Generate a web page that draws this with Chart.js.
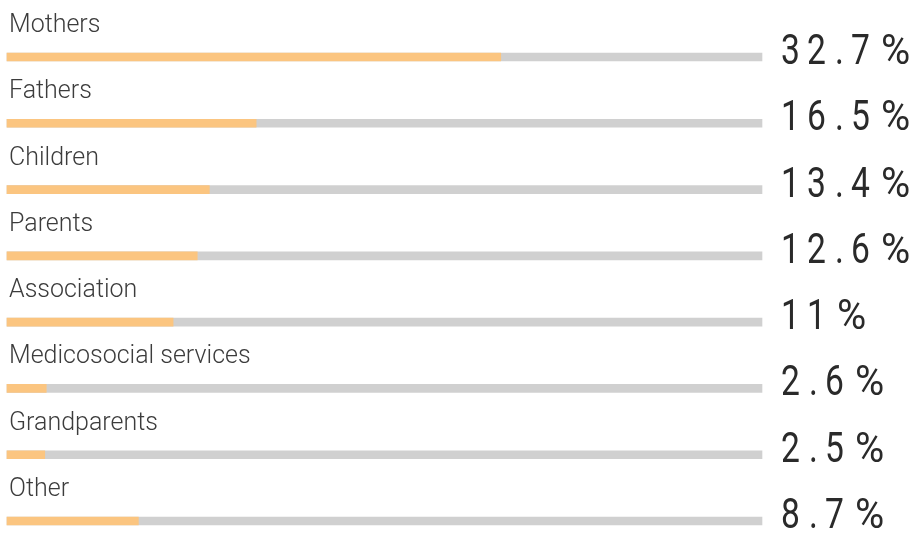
<!DOCTYPE html>
<html>
<head>
<meta charset="utf-8">
<script src="https://cdn.jsdelivr.net/npm/chart.js@4/dist/chart.umd.min.js"></script>
<style>
  html, body { margin: 0; padding: 0; background: #ffffff; }
  #wrap { width: 919px; height: 535px; position: relative; }
</style>
</head>
<body>
<div id="wrap"><canvas id="chart"></canvas></div>
<script>
// Who the respondents are, as a share of all answers
const categories = ['Mothers', 'Fathers', 'Children', 'Parents', 'Association',
  'Medicosocial services', 'Grandparents', 'Other'];
const shares = [32.7, 16.5, 13.4, 12.6, 11, 2.6, 2.5, 8.7];
const valueLabels = ['32.7%', '16.5%', '13.4%', '12.6%', '11%', '2.6%', '2.5%', '8.7%'];
const scaleMax = 50;
const track = categories.map(() => scaleMax);

const ORANGE = '#fbc580';
const GREY = '#d0d0d0';

// horizontal advance of one character of the condensed value text
function advance(ch, next) {
  if (ch === '.') return 16;
  if (next === '.') return 28;
  if (next === '%') return 30;
  return 26;
}

// Category names above each bar and the big condensed value at the right end
const textPlugin = {
  id: 'rowText',
  afterDatasetsDraw(chart) {
    const ctx = chart.ctx;
    const y = chart.scales.y;
    const area = chart.chartArea;
    ctx.save();
    categories.forEach((name, i) => {
      const cy = y.getPixelForValue(i);
      ctx.font = '300 25px Roboto';
      ctx.fillStyle = '#3c3c3c';
      ctx.textAlign = 'left';
      ctx.textBaseline = 'alphabetic';
      ctx.fillText(name, area.left + 2, cy - 25);

      // condensed, widely spaced value
      ctx.fillStyle = '#2a2a2a';
      ctx.font = '400 42px Roboto';
      const chars = [...valueLabels[i]];
      let x = area.right + 19;
      chars.forEach((ch, k) => {
        const sx = ch === '%' ? 0.95 : 0.8;
        ctx.save();
        ctx.translate(x, cy + 7);
        ctx.scale(sx, 1);
        ctx.fillText(ch, 0, 0);
        ctx.restore();
        x += advance(ch, chars[k + 1]);
      });
    });
    ctx.restore();
  }
};

new Chart(document.getElementById('chart'), {
  type: 'bar',
  data: {
    labels: categories,
    datasets: [
      { data: shares, backgroundColor: ORANGE, order: 0, clip: false },
      { data: track, backgroundColor: GREY, order: 1, clip: false }
    ]
  },
  options: {
    indexAxis: 'y',
    responsive: true,
    maintainAspectRatio: false,
    animation: false,
    layout: { padding: { left: 7, right: 157, top: 57, bottom: 14 } },
    datasets: { bar: { barThickness: 8, grouped: false, borderWidth: 0 } },
    plugins: { legend: { display: false }, tooltip: { enabled: false } },
    scales: {
      x: { min: 0, max: scaleMax, display: false },
      y: { display: false, offset: false }
    }
  },
  plugins: [textPlugin]
});
</script>
</body>
</html>
